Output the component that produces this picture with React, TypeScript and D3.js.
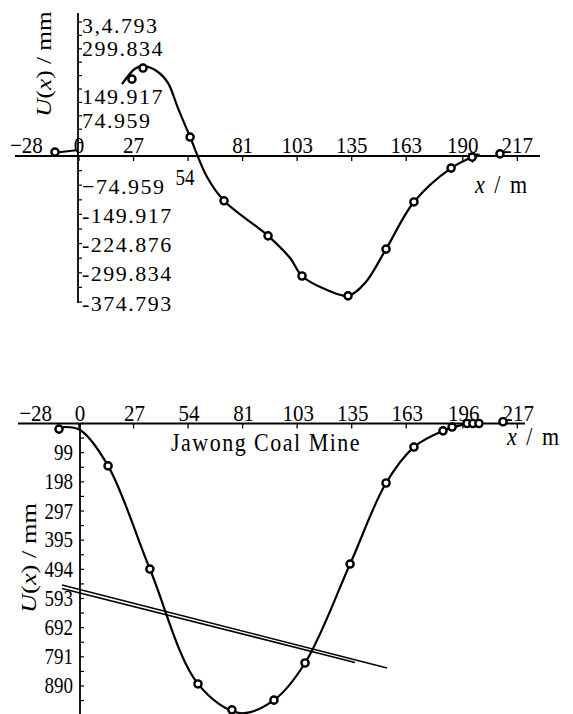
import React from "react";
import * as d3 from "d3";

// ---------- data ----------
const topTickPos = [-28, 0, 27, 54, 81, 108, 135, 162, 190, 217];
const topTickLabels = ["−28", "0", "27", "54", "81", "103", "135", "163", "190", "217"];
const bottomTickPos = [-22, 0, 27, 54, 81, 108, 135, 162, 190, 217];
const bottomTickLabels = ["−28", "0", "27", "54", "81", "103", "135", "163", "196", "217"];

const topYTicks = [374.793, 299.834, 149.917, 74.959, -74.959, -149.917, -224.876, -299.834, -374.793];
const topYLabels = ["3,4.793", "299.834", "149.917", "74.959", "−74.959", "-149.917", "-224.876", "-299.834", "-374.793"];
const bottomYTicks = [99, 198, 297, 395, 494, 593, 692, 791, 890];
const bottomYLabels = ["99", "198", "297", "395", "494", "593", "692", "791", "890"];

// top chart: measured points (x in m, U in mm)
const topPointX = [-11.9, 26.2, 31.7, 55.0, 71.8, 93.6, 110.4, 133.2, 152.0, 165.8, 184.2, 194.6, 208.4];
const topPointY = [11, 215, 246, 53, -115, -205, -308, -359, -239, -118, -31, -3, 6];
// top chart: fitted curve
const topCurveX = [21.3, 27.7, 31.7, 39.1, 44.1, 49.0, 55.0, 63.4, 71.8, 93.6, 104.5, 110.4, 122.8, 133.2, 141.6, 152.0, 165.8, 184.2, 194.6];
const topCurveY = [201, 244, 252, 235, 204, 134, 53, -54, -115, -205, -262, -308, -344, -359, -326, -239, -118, -31, -3];
const topTailX = [-11.9, -1.5];
const topTailY = [9, 16];

// bottom chart: measured points
const bottomPointX = [-9.9, 14.4, 35.1, 58.9, 75.7, 96.5, 111.9, 134.2, 152.0, 165.8, 180.2, 184.7, 192.1, 195.0, 198.0, 209.9];
const bottomPointY = [19, 144, 494, 884, 972, 939, 813, 477, 202, 80, 25, 12, 0, 0, 0, -6];
// bottom chart: fitted curve
const bottomCurveX = [-7.9, 0.5, 14.4, 35.1, 58.9, 79.7, 96.5, 111.9, 134.2, 152.0, 165.8, 180.2, 191.1];
const bottomCurveY = [12, 22, 144, 494, 884, 983, 939, 813, 477, 202, 80, 25, 2];
// bottom chart: straight double line
const lineAX = [-8.4, 152.5];
const lineAY = [548, 830];
const lineBX = [-8.4, 136.6];
const lineBY = [560, 811];

// ---------- component ----------
export default function App() {
  const W = 573;
  const H = 714;
  const x = d3.scaleLinear().domain([0, 217]).range([79, 79 + 217 * 2.02]);
  const yTop = d3.scaleLinear().domain([-374.793, 0, 374.793]).range([302, 156, 22]);
  // positive tick labels of the top chart sit a little above their ticks
  const yTopLabel = (v: number) =>
    v > 0 ? d3.scaleLinear().domain([74.959, 374.793]).range([120.5, 25])(v) : yTop(v) + 1;
  const yBot = d3.scaleLinear().domain([0, 890]).range([423.5, 685.7]);

  const topAxisY = yTop(0);
  const botAxisY = yBot(0);
  const x0 = x(0);

  const curve = d3.curveCatmullRom.alpha(0.5);
  const lineTop = d3
    .line<number>()
    .x((_, i) => x(topCurveX[i]))
    .y((d) => yTop(d))
    .curve(curve);
  const lineBot = d3
    .line<number>()
    .x((_, i) => x(bottomCurveX[i]))
    .y((d) => yBot(d))
    .curve(curve);
  const straight = (xs: number[], ys: number[]) =>
    d3
      .line<number>()
      .x((_, i) => x(xs[i]))
      .y((d) => yBot(d))(ys) || "";

  const font = "'Liberation Serif', 'DejaVu Serif', serif";

  const topMinor = d3.range(-10, 11).map((k) => k * 37.4793);
  const botMinor = d3.range(0, 20).map((k) => k * 49.5);

  const T = (
    props: {
      x: number;
      y: number;
      size: number;
      sy?: number;
      anchor?: string;
      ls?: number;
      children: React.ReactNode;
    }
  ) => (
    <text
      transform={`translate(${props.x},${props.y}) scale(1,${props.sy ?? 1})`}
      fontSize={props.size}
      textAnchor={props.anchor ?? "middle"}
      dominantBaseline="central"
      letterSpacing={props.ls ?? 0}
      fontFamily={font}
      fill="#000"
    >
      {props.children}
    </text>
  );

  return (
    <div style={{ position: "absolute", left: 0, top: 0 }}>
      <svg width={W} height={H} viewBox={`0 0 ${W} ${H}`} style={{ display: "block", background: "#fff" }}>
        <defs>
          <marker id="arr" viewBox="0 0 10 10" refX="2" refY="5" markerWidth="5" markerHeight="5" orient="auto">
            <path d="M0,0 L10,5 L0,10 z" fill="#000" />
          </marker>
        </defs>

        {/* ================= TOP CHART ================= */}
        <g>
          {/* x axis */}
          <line x1={15} x2={540} y1={topAxisY} y2={topAxisY} stroke="#000" strokeWidth={1.8} />
          {topTickPos.map((v, i) =>
            i === 0 ? null : (
              <line key={"tt" + i} x1={x(v)} x2={x(v)} y1={topAxisY} y2={topAxisY + 5} stroke="#000" strokeWidth={1.3} />
            )
          )}
          {topTickPos.map((v, i) =>
            topTickLabels[i] === "54" ? (
              <T key={"tl" + i} x={x(v) - 3} y={177} size={19} sy={1.2}>
                {topTickLabels[i]}
              </T>
            ) : (
              <T key={"tl" + i} x={x(v) + (i === 0 ? 4 : 0)} y={145} size={21} sy={1.12}>
                {topTickLabels[i]}
              </T>
            )
          )}
          <text
            transform={`translate(502,185) scale(1,1.1)`}
            fontSize={22}
            textAnchor="middle"
            dominantBaseline="central"
            fontFamily={font}
            letterSpacing={2}
          >
            <tspan fontStyle="italic">x</tspan>
            <tspan> / m</tspan>
          </text>

          {/* y axis */}
          <line x1={x0 - 1} x2={x0 - 1} y1={13} y2={303} stroke="#000" strokeWidth={1.8} />
          {topMinor.map((v, i) => (
            <line key={"tm" + i} x1={x0 - 1} x2={x0 + 3} y1={yTop(v)} y2={yTop(v)} stroke="#000" strokeWidth={1.2} />
          ))}
          {topYTicks.map((v, i) => (
            <T key={"yl" + i} x={82} y={yTopLabel(v)} size={22} anchor="start" ls={1.5}>
              {topYLabels[i]}
            </T>
          ))}
          <text
            transform={`translate(44,64) rotate(-90) scale(1.15,1)`}
            fontSize={22}
            textAnchor="middle"
            dominantBaseline="central"
            fontFamily={font}
          >
            <tspan fontStyle="italic">U</tspan>
            <tspan>(</tspan>
            <tspan fontStyle="italic">x</tspan>
            <tspan>) / mm</tspan>
          </text>

          {/* curve */}
          <path d={lineTop(topCurveY) || ""} fill="none" stroke="#000" strokeWidth={2.2} markerEnd="url(#arr)" />
          <path
            d={
              d3
                .line<number>()
                .x((_, i) => x(topTailX[i]))
                .y((d) => yTop(d))(topTailY) || ""
            }
            fill="none"
            stroke="#000"
            strokeWidth={2.2}
          />
          {topPointY.map((v, i) => (
            <circle key={"tp" + i} cx={x(topPointX[i])} cy={yTop(v)} r={3.6} fill="#fff" stroke="#000" strokeWidth={2.4} />
          ))}
        </g>

        {/* ================= BOTTOM CHART ================= */}
        <g>
          <line x1={18} x2={525} y1={botAxisY} y2={botAxisY} stroke="#000" strokeWidth={1.8} />
          {bottomTickPos.map((v, i) =>
            i === 0 ? null : (
              <line key={"bt" + i} x1={x(v)} x2={x(v)} y1={botAxisY} y2={botAxisY + 5} stroke="#000" strokeWidth={1.3} />
            )
          )}
          {bottomTickPos.map((v, i) => (
            <T key={"bl" + i} x={x(v) + 1} y={413} size={21} sy={1.1}>
              {bottomTickLabels[i]}
            </T>
          ))}
          <text
            transform={`translate(534,437) scale(1,1.1)`}
            fontSize={22}
            textAnchor="middle"
            dominantBaseline="central"
            fontFamily={font}
            letterSpacing={2}
          >
            <tspan fontStyle="italic">x</tspan>
            <tspan> / m</tspan>
          </text>
          <T x={266} y={443} size={22} sy={1.1} ls={1.5}>
            Jawong Coal Mine
          </T>

          {/* y axis */}
          <line x1={x0 + 1} x2={x0 + 1} y1={botAxisY} y2={H} stroke="#000" strokeWidth={1.8} />
          {botMinor.map((v, i) => (
            <line key={"bm" + i} x1={x0 + 1} x2={x0 + 5} y1={yBot(v)} y2={yBot(v)} stroke="#000" strokeWidth={1.2} />
          ))}
          {bottomYTicks.map((v, i) => (
            <T key={"byl" + i} x={73} y={yBot(v)} size={19} sy={1.2} anchor="end">
              {bottomYLabels[i]}
            </T>
          ))}
          <text
            transform={`translate(28,558) rotate(-90) scale(1.2,1)`}
            fontSize={22}
            textAnchor="middle"
            dominantBaseline="central"
            fontFamily={font}
          >
            <tspan fontStyle="italic">U</tspan>
            <tspan>(</tspan>
            <tspan fontStyle="italic">x</tspan>
            <tspan>) / mm</tspan>
          </text>

          {/* straight double line */}
          <path d={straight(lineAX, lineAY)} fill="none" stroke="#000" strokeWidth={1.6} />
          <path d={straight(lineBX, lineBY)} fill="none" stroke="#000" strokeWidth={1.6} />

          {/* curve */}
          <path d={lineBot(bottomCurveY) || ""} fill="none" stroke="#000" strokeWidth={2.2} />
          {bottomPointY.map((v, i) => (
            <circle key={"bp" + i} cx={x(bottomPointX[i])} cy={yBot(v)} r={3.6} fill="#fff" stroke="#000" strokeWidth={2.4} />
          ))}
        </g>
      </svg>
    </div>
  );
}
